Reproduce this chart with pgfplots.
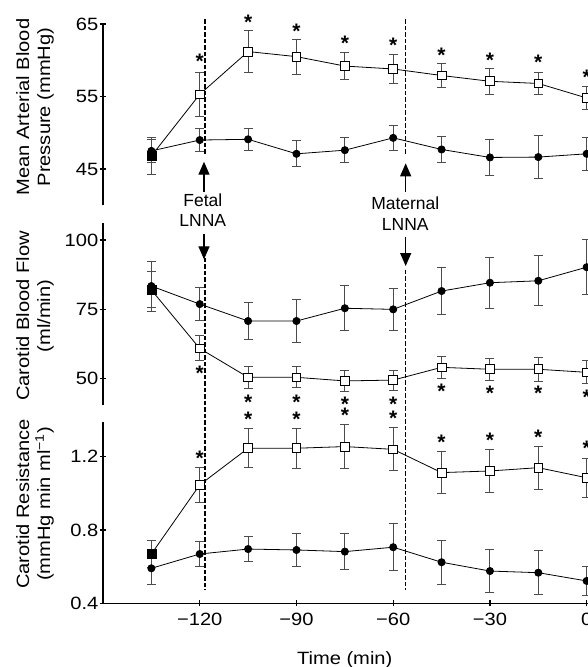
\documentclass[border=0pt]{standalone}
\usepackage{pgfplots}
\pgfplotsset{compat=1.18}
\usepackage{fontspec}
\setmainfont{Liberation Sans}
\newfontfamily\widefont[FakeStretch=1.13]{Liberation Sans}
\usetikzlibrary{arrows.meta}
\newcommand\tickfont{\widefont\fontsize{17.8}{21}\selectfont}
\newcommand\annfont{\fontsize{17.5}{20.7}\selectfont}
\pgfdeclareplotmark{txtstar}{\pgftext[base,at={\pgfpoint{0pt}{-12.3pt}}]{\fontsize{21}{24}\selectfont\bfseries *}}

\pgfplotsset{
  panel/.style={
    scale only axis, width=499.8pt, xmin=-150, xmax=5, clip=false,
    tick align=outside, major tick length=6pt,
    tick style={black, line width=1.2pt},
    tick label style={font=\tickfont},
    yticklabel style={inner sep=1.5pt},
    xticklabel style={yshift=-3pt},
    /pgf/number format/assume math mode=true,
    every axis y label/.style={rotate=90, anchor=south, inner sep=0pt, align=center, font=\tickfont},
  },
  ebar/.style={
    error bars/y dir=both, error bars/y explicit,
    error bars/error bar style={black!70, line width=1pt, solid},
    error bars/error mark options={rotate=90, mark size=4.5pt, black!70, line width=1pt},
  },
  circ/.style={ebar, black, line width=0.8pt, mark=*, mark size=3.6pt, mark options={solid, fill=black}},
  sq/.style={ebar, black, line width=0.8pt, mark=square*, mark size=4.4pt, mark options={solid, fill=white, draw=black, line width=0.8pt}},
  sqfill/.style={only marks, mark=square*, mark size=4.4pt, mark options={fill=black, draw=black}},
  stars/.style={only marks, mark=txtstar, black!85},
}
\tikzset{
  vdash/.style={black, line width=1.2pt, dash pattern=on 4.5pt off 2pt},
  larrow/.style={black, line width=1.3pt, -{Triangle[width=11pt,length=13pt]}},
}

\begin{document}
\begin{tikzpicture}
% ---------------- top panel: MAP ----------------
\begin{axis}[panel, at={(0pt,-205.3pt)}, anchor=south west, height=181.3pt,
  ymin=40, ymax=65, axis y line=left, axis x line=none,
  axis line style={-, line width=1.3pt},
  ytick={45,55,65}, yticklabels={45,55,65},
  ylabel={Mean Arterial Blood\\Pressure (mmHg)},
  ylabel style={at={(axis description cs:-0.098,0.542)}}]
\addplot[circ] table[x=x,y=y,y error=e] {
x y e
-135 47.5 1.6
-120 49.0 1.6
-105 49.1 1.5
-90 47.1 1.8
-75 47.6 1.75
-60 49.3 1.7
-45 47.7 1.85
-30 46.6 2.45
-15 46.65 2.95
0 47.1 2.3
};
\addplot[sq] table[x=x,y=y,y error=e] {
x y e
-135 46.8 2.5
-120 55.3 3.0
-105 61.2 2.9
-90 60.5 2.4
-75 59.2 1.85
-60 58.8 2.0
-45 57.9 1.7
-30 57.1 1.8
-15 56.8 1.55
0 54.8 1.65
};
\addplot[sqfill] coordinates {(-135,46.8)};
\addplot[stars] coordinates {(-120,60.5) (-105,66.0) (-90,64.7) (-75,63.0) (-60,62.7) (-45,61.4) (-30,60.7) (-15,60.4) (0,58.4)};
\draw[vdash] (axis cs:-118.37,65.65) -- (axis cs:-118.37,47.07);
\draw[vdash] (axis cs:-56.13,65.65) -- (axis cs:-56.13,47.07);
\draw[larrow] (axis cs:-118.68,41.88) -- (axis cs:-118.68,46.01);
\draw[larrow] (axis cs:-56.13,41.88) -- (axis cs:-56.13,45.79);
\node[font=\annfont, anchor=base, inner sep=0pt] at (axis cs:-119.05,39.90) {Fetal};
\node[font=\annfont, anchor=base, inner sep=0pt] at (axis cs:-119.05,37.05) {LNNA};
\node[font=\annfont, anchor=base, inner sep=0pt] at (axis cs:-56.25,39.49) {Maternal};
\node[font=\annfont, anchor=base, inner sep=0pt] at (axis cs:-56.25,36.59) {LNNA};
\end{axis}
% ---------------- middle panel: CBF ----------------
\begin{axis}[panel, at={(0pt,-405pt)}, anchor=south west, height=182pt,
  ymin=40.52, ymax=106.13, axis y line=left, axis x line=none,
  axis line style={-, line width=1.3pt},
  ytick={50,75,100}, yticklabels={50,75,100},
  ylabel={Carotid Blood Flow\\(ml/min)},
  ylabel style={at={(axis description cs:-0.098,0.489)}}]
\addplot[circ] table[x=x,y=y,y error=e] {
x y e
-135 83.4 9.0
-120 76.9 6.0
-105 70.8 6.6
-90 70.8 7.6
-75 75.4 8.2
-60 75.0 7.5
-45 81.6 8.5
-30 84.6 9.2
-15 85.3 9.0
0 90.2 10.0
};
\addplot[sq] table[x=x,y=y,y error=e] {
x y e
-135 82.0 6.5
-120 60.9 4.5
-105 50.5 3.9
-90 50.5 3.8
-75 49.2 3.8
-60 49.5 3.6
-45 54.1 4.0
-30 53.4 4.0
-15 53.4 4.4
0 52.3 4.1
};
\addplot[sqfill] coordinates {(-135,82.0)};
\addplot[stars] coordinates {(-120,53.7) (-105,43.5) (-90,43.5) (-75,42.6) (-60,42.6) (-45,47.3) (-30,46.5) (-15,46.5) (0,45.3)};
\draw[larrow] (axis cs:-118.68,102.16) -- (axis cs:-118.68,93.04);
\draw[larrow] (axis cs:-56.13,100.97) -- (axis cs:-56.13,90.63);
\end{axis}
% ---------------- bottom panel: CR ----------------
\begin{axis}[panel, at={(0pt,-603.3pt)}, anchor=south west, height=181.6pt,
  ymin=0.4, ymax=1.3907, axis lines=left,
  axis line style={-, line width=1.3pt},
  ytick={0.4,0.8,1.2}, yticklabels={0.4,0.8,1.2},
  xtick={-120,-90,-60,-30,0}, xticklabels={−120,−90,−60,−30,0},
  ylabel={Carotid Resistance\\(mmHg min ml\textsuperscript{−1})},
  ylabel style={at={(axis description cs:-0.098,0.547)}},
  xlabel={Time (min)},
  xlabel style={at={(axis description cs:0.4836,0)}, anchor=base, yshift=-60.7pt, font=\tickfont}]
\addplot[circ] table[x=x,y=y,y error=e] {
x y e
-135 0.591 0.087
-120 0.669 0.068
-105 0.696 0.067
-90 0.691 0.09
-75 0.682 0.098
-60 0.706 0.127
-45 0.624 0.12
-30 0.576 0.118
-15 0.567 0.12
0 0.522 0.08
};
\addplot[sq] table[x=x,y=y,y error=e] {
x y e
-135 0.669 0.076
-120 1.046 0.095
-105 1.246 0.105
-90 1.246 0.11
-75 1.255 0.118
-60 1.24 0.118
-45 1.113 0.113
-30 1.122 0.116
-15 1.14 0.118
0 1.085 0.107
};
\addplot[sqfill] coordinates {(-135,0.669)};
\addplot[stars] coordinates {(-120,1.219) (-105,1.431) (-90,1.431) (-75,1.451) (-60,1.437) (-45,1.306) (-30,1.318) (-15,1.336) (0,1.273)};
\draw[vdash] (axis cs:-118.37,2.284) -- (axis cs:-118.37,0.4728);
\draw[vdash] (axis cs:-56.13,2.2186) -- (axis cs:-56.13,0.4728);
\end{axis}
\pgfresetboundingbox
\useasboundingbox (-103pt,-667pt) rectangle (485pt,0pt);
\end{tikzpicture}
\end{document}
